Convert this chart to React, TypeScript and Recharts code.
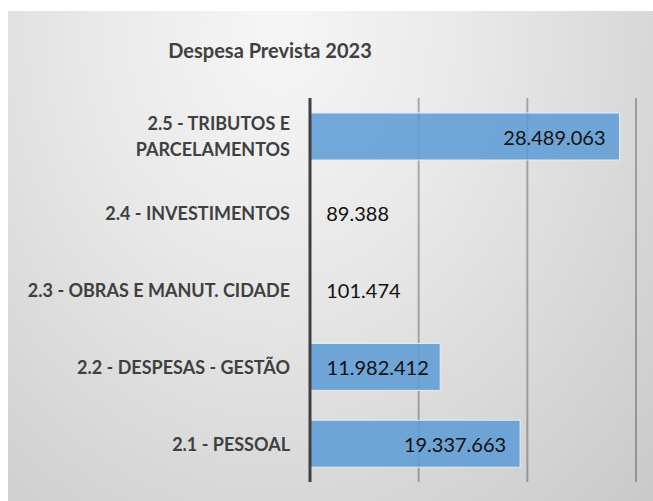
import { BarChart, Bar, XAxis, YAxis, CartesianGrid, LabelList } from "recharts";

const categories = [
  "2.5 - TRIBUTOS E PARCELAMENTOS",
  "2.4 - INVESTIMENTOS",
  "2.3 - OBRAS E MANUT. CIDADE",
  "2.2 - DESPESAS - GESTÃO",
  "2.1 - PESSOAL",
];
const values = [28489063, 89388, 101474, 11982412, 19337663];
const xTicks = [0, 10000000, 20000000, 30000000];

const data = categories.map((name, i) => ({ name, value: values[i] }));

const FONT = "Lato, 'Open Sans', sans-serif";
const TEXT = "#404040";

function fmt(n: number): string {
  return String(n).replace(/\B(?=(\d{3})+(?!\d))/g, ".");
}

function wrap(label: string, max = 17): string[] {
  if (label.length <= 28) return [label];
  const words = label.split(" ");
  const lines: string[] = [];
  let cur = "";
  for (const w of words) {
    const next = cur ? cur + " " + w : w;
    if (next.length > max && cur) {
      lines.push(cur);
      cur = w;
    } else {
      cur = next;
    }
  }
  if (cur) lines.push(cur);
  return lines;
}

function CategoryTick(props: any) {
  const { x, y, payload } = props;
  const lines = wrap(payload.value);
  const lh = 26;
  const start = y - ((lines.length - 1) * lh) / 2;
  return (
    <text
      x={x}
      y={start}
      textAnchor="end"
      fill={TEXT}
      fontFamily={FONT}
      fontSize={18}
      fontWeight={700}
    >
      {lines.map((l, i) => (
        <tspan key={i} x={x} y={start + i * lh} dominantBaseline="central">
          {l}
        </tspan>
      ))}
    </text>
  );
}

function ValueLabel(props: any) {
  const { x, y, width, height, value } = props;
  const text = fmt(value);
  const est = text.replace(/\./g, "").length * 11.6 + (text.split(".").length - 1) * 5;
  const endX = Math.max(x + width - 14, x + 16 + est);
  return (
    <text
      x={endX}
      y={y + height / 2}
      textAnchor="end"
      dominantBaseline="central"
      fill="#111"
      fontFamily={FONT}
      fontSize={20}
    >
      {text}
    </text>
  );
}

export default function App() {
  return (
    <div
      style={{
        position: "absolute",
        left: 8,
        top: 11,
        width: 645,
        height: 490,
        background:
          "radial-gradient(ellipse farthest-corner at 42% 4%, #f6f6f6 0%, #e9e9e9 35%, #c9c9c9 100%)",
        overflow: "hidden",
      }}
    >
      <div
        style={{
          position: "absolute",
          left: 0,
          top: 27,
          width: 524,
          textAlign: "center",
          fontFamily: FONT,
          fontWeight: 700,
          fontSize: 20,
          lineHeight: "24px",
          color: TEXT,
        }}
      >
        Despesa Prevista 2023
      </div>
      <BarChart
        width={645}
        height={490}
        data={data}
        layout="vertical"
        margin={{ top: 87, right: 17, bottom: 19, left: 2 }}
      >
        <CartesianGrid
          horizontal={false}
          vertical
          stroke="#000"
          strokeOpacity={0.28}
          strokeWidth={2}
        />
        <XAxis type="number" domain={[0, 30000000]} ticks={xTicks} hide />
        <YAxis
          type="category"
          dataKey="name"
          width={300}
          tickLine={false}
          tickSize={0}
          tickMargin={20}
          axisLine={{ stroke: "#404040", strokeWidth: 3 }}
          tick={<CategoryTick />}
          interval={0}
        />
        <Bar
          dataKey="value"
          fill="#5b9bd5"
          fillOpacity={0.85}
          stroke="#e3edf7"
          strokeWidth={1}
          barSize={47}
          isAnimationActive={false}
        >
          <LabelList dataKey="value" content={<ValueLabel />} />
        </Bar>
      </BarChart>
    </div>
  );
}
